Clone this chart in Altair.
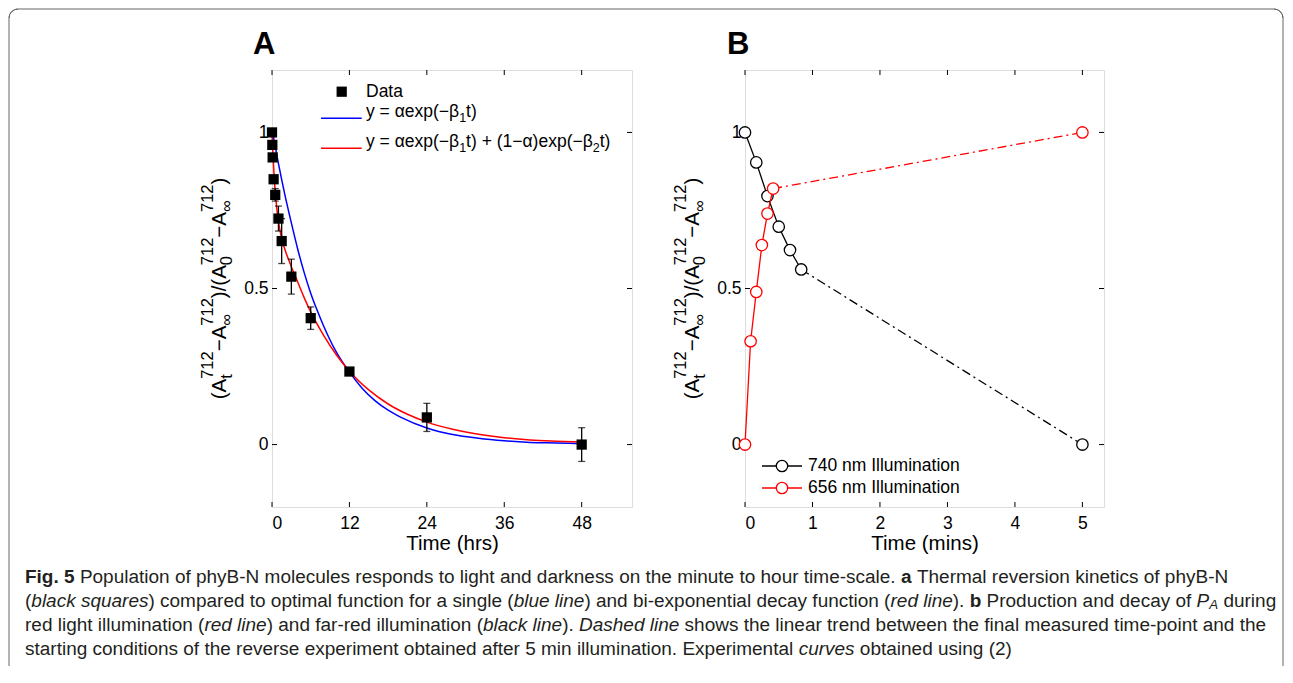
import altair as alt
import pandas as pd

FONT = "Liberation Sans"
CAP_FONT = "Liberation Sans"

# ---------------- Panel A data ----------------
a_time = [0, 0.05, 0.1, 0.25, 0.5, 1, 1.5, 3, 6, 12, 24, 48]
a_value = [1.0, 0.96, 0.92, 0.85, 0.80, 0.724, 0.652, 0.538, 0.405, 0.234, 0.087, 0.0]
a_error = [0, 0, 0, 0, 0.02, 0.04, 0.072, 0.056, 0.036, 0.008, 0.045, 0.054]

blue_t = [0, 1, 2, 3, 4, 5, 6, 7, 8, 10, 12, 14, 16, 18, 20, 24, 28, 32, 36, 40, 44, 48]
blue_y = [1.01, 0.90, 0.80, 0.71, 0.625, 0.55, 0.485, 0.43, 0.38, 0.295, 0.232, 0.18, 0.14, 0.11,
          0.087, 0.053, 0.032, 0.02, 0.012, 0.007, 0.005, 0.003]

red_t = [0, 0.1, 0.25, 0.5, 0.75, 1, 1.5, 2, 3, 4, 5, 6, 8, 10, 12, 15, 18, 21, 24, 28, 32, 36, 40, 44, 48]
red_y = [1.0, 0.95, 0.89, 0.81, 0.755, 0.715, 0.66, 0.625, 0.57, 0.52, 0.47, 0.425, 0.35, 0.287, 0.235,
         0.175, 0.13, 0.097, 0.072, 0.049, 0.033, 0.022, 0.015, 0.011, 0.008]

a_xticks = [0, 12, 24, 36, 48]
yticks = [0, 0.5, 1]

# ---------------- Panel B data ----------------
far_t = [0, 0.167, 0.333, 0.5, 0.667, 0.833]
far_y = [1.0, 0.904, 0.796, 0.698, 0.623, 0.561]
far_trend_t = [0.833, 5]
far_trend_y = [0.561, 0.0]

r656_t = [0, 0.083, 0.167, 0.25, 0.333, 0.417]
r656_y = [0.0, 0.331, 0.489, 0.639, 0.740, 0.820]
red_trend_t = [0.417, 5]
red_trend_y = [0.820, 1.0]

b_xticks = [0, 1, 2, 3, 4, 5]

legend_b = ["740 nm Illumination", "656 nm Illumination"]

# caption: (text, style) r=regular b=bold i=italic s=italic subscript
caption = [
    [("Fig. 5", "b"), (" Population of phyB-N molecules responds to light and darkness on the minute to hour time-scale. ", "r"),
     ("a", "b"), (" Thermal reversion kinetics of phyB-N", "r")],
    [("(", "r"), ("black squares", "i"), (") compared to optimal function for a single (", "r"), ("blue line", "i"),
     (") and bi-exponential decay function (", "r"), ("red line", "i"), ("). ", "r"), ("b", "b"),
     (" Production and decay of ", "r"), ("P", "i"), ("A", "s"), (" during", "r")],
    [("red light illumination (", "r"), ("red line", "i"), (") and far-red illumination (", "r"), ("black line", "i"),
     ("). ", "r"), ("Dashed line", "i"),
     (" shows the linear trend between the final measured time-point and the", "r")],
    [("starting conditions of the reverse experiment obtained after 5 min illumination. Experimental ", "r"),
     ("curves", "i"), (" obtained using (2)", "r")],
]

# ---------------- geometry (pixels) ----------------
WA, WB, H = 360, 359, 437
XA = [0, 55.8]
XB = [0, 5.32]
YD = [-0.2, 1.2]

# Arial / Liberation Sans advance widths (em)
ARR = dict(zip("abcdefghijklmnopqrstuvwxyz",
               [.556, .556, .5, .556, .556, .278, .556, .556, .222, .222, .5, .222, .833, .556, .556, .556, .556,
                .333, .5, .278, .556, .5, .722, .5, .5, .5]))
ARR.update(dict(zip("ABCDEFGHIJKLMNOPQRSTUVWXYZ",
                    [.667, .667, .722, .722, .667, .611, .778, .722, .278, .5, .667, .556, .833, .722, .778, .667,
                     .778, .722, .667, .611, .722, .667, .944, .667, .667, .611])))
ARR.update({" ": .278, ".": .278, ",": .278, "-": .333, "(": .333, ")": .333, "/": .278,
            "\u2212": .584, "\u221e": .713, "=": .584, "\u03b1": .578, "\u03b2": .575, "+": .584})
ARB = dict(ARR)
ARB.update({"F": .611, "i": .278, "g": .611, "a": .556, "b": .611, "5": .556})


def em(s, bold=False):
    tbl = ARB if bold else ARR
    return sum(tbl.get(c, .556) for c in s)


def tw(s, size):
    return em(s) * size


def ylabel_rows(center_y, base_x, main=20.5, script=16.5, raise_=12.7, drop=5.7):
    seq = [("(",), ("A",), ("712", "t"), ("\u2212",), ("A",), ("712", "\u221e"), (")",),
           ("/",), ("(",), ("A",), ("712", "0"), ("\u2212",), ("A",), ("712", "\u221e"), (")",)]
    widths = [tw(g[0], main) if len(g) == 1 else max(tw(g[0], script), tw(g[1], script)) for g in seq]
    pos = center_y + sum(widths) / 2
    rows = []
    for g, w in zip(seq, widths):
        if len(g) == 1:
            rows.append(dict(txt=g[0], px=base_x, py=pos, fs=main))
        else:
            rows.append(dict(txt=g[0], px=base_x - raise_, py=pos, fs=script))
            rows.append(dict(txt=g[1], px=base_x + drop, py=pos, fs=script))
        pos -= w
    return rows


def formula_rows(x0, base_y, parts, main=17.5, script=12.5, drop=5):
    rows = []
    x = x0
    for txt, sub in parts:
        size = script if sub else main
        rows.append(dict(txt=txt, px=x, py=base_y + (drop if sub else 0), fs=size))
        x += tw(txt, size)
    return rows


def text_layer(rows, angle=0, weight="normal", style="normal", font=FONT, color="black", baseline="alphabetic"):
    return alt.Chart(pd.DataFrame(rows)).mark_text(
        angle=angle, align="left", baseline=baseline, font=font, color=color,
        fontWeight=weight, fontStyle=style
    ).encode(
        x=alt.X("px:Q", scale=None, axis=None),
        y=alt.Y("py:Q", scale=None, axis=None),
        text="txt:N",
        size=alt.Size("fs:Q", scale=None, legend=None),
    )


def one():
    return pd.DataFrame({"k": [0]})


def inner_ticks(xvals, yvals, xdom, w):
    xt = pd.DataFrame({"v": xvals})
    yt = pd.DataFrame({"v": yvals})
    xs = alt.Scale(domain=xdom, nice=False, zero=False)
    ys_ = alt.Scale(domain=YD, nice=False, zero=False)
    base = alt.Chart(xt).mark_rule(color="black", strokeWidth=1)
    bt = base.encode(x=alt.X("v:Q", scale=xs), y=alt.value(H), y2=alt.value(H - 5))
    tt = base.encode(x=alt.X("v:Q", scale=xs), y=alt.value(0), y2=alt.value(5))
    basey = alt.Chart(yt).mark_rule(color="black", strokeWidth=1)
    lt = basey.encode(y=alt.Y("v:Q", scale=ys_), x=alt.value(0), x2=alt.value(5))
    rt = basey.encode(y=alt.Y("v:Q", scale=ys_), x=alt.value(w), x2=alt.value(w - 5))
    return [bt, tt, lt, rt]


# ---------------- caption layout ----------------
CAP_X0 = -247          # left edge of caption text, relative to panel A plot origin
CAP_Y0 = 507           # centre of first caption line
CAP_DY = 24
# target right ends of lines 1-3 (relative px)
CAP_ENDS = [955, 1005, 1004]
line_ems = [sum(em(t, s == "b") for t, s in caption[i]) for i in range(3)]
CAP_SIZE = min(sum((e - CAP_X0) / le for e, le in zip(CAP_ENDS, line_ems)) / 3,
               min((1008 - CAP_X0) / le for le in line_ems))
SUB_SIZE = CAP_SIZE * 0.7

cap_rows = {"r": [], "b": [], "i": [], "s": []}
for li, segs in enumerate(caption):
    x = CAP_X0
    yc = CAP_Y0 + CAP_DY * li
    for txt, st in segs:
        size = SUB_SIZE if st == "s" else CAP_SIZE
        lead = len(txt) - len(txt.lstrip(" "))
        stripped = txt.strip(" ")
        if stripped:
            cap_rows[st].append(dict(txt=stripped, px=x + em(" " * lead) * size,
                                     py=yc + (4 if st == "s" else 0), fs=size))
        x += em(txt, st == "b") * size

CAP_COLOR = "#231f20"
cap_layers = [
    text_layer(cap_rows["r"], font=CAP_FONT, color=CAP_COLOR, baseline="middle"),
    text_layer(cap_rows["b"], font=CAP_FONT, color=CAP_COLOR, baseline="middle", weight="bold"),
    text_layer(cap_rows["i"], font=CAP_FONT, color=CAP_COLOR, baseline="middle", style="italic"),
    text_layer(cap_rows["s"], font=CAP_FONT, color=CAP_COLOR, baseline="middle", style="italic"),
]

# ---------------- outer frame (open at the bottom) ----------------
FX0, FX1, FY0, FY1, R = -263, 1011, -61, 596, 9
FRAME = "#666666"
FW = 1
frame = [
    alt.Chart(one()).mark_rule(color=FRAME, strokeWidth=FW).encode(
        x=alt.value(FX0), y=alt.value(FY0 + R), y2=alt.value(FY1)),
    alt.Chart(one()).mark_rule(color=FRAME, strokeWidth=FW).encode(
        x=alt.value(FX1), y=alt.value(FY0 + R), y2=alt.value(FY1)),
    alt.Chart(one()).mark_rule(color=FRAME, strokeWidth=FW).encode(
        x=alt.value(FX0 + R), x2=alt.value(FX1 - R), y=alt.value(FY0)),
    alt.Chart(one()).mark_arc(filled=False, stroke=FRAME, strokeWidth=FW, strokeJoin="round",
                              radius=R, radius2=R, theta=4.712389, theta2=6.283185).encode(
        x=alt.value(FX0 + R), y=alt.value(FY0 + R)),
    alt.Chart(one()).mark_arc(filled=False, stroke=FRAME, strokeWidth=FW, strokeJoin="round",
                              radius=R, radius2=R, theta=0, theta2=1.570796).encode(
        x=alt.value(FX1 - R), y=alt.value(FY0 + R)),
]

# ---------------- Panel A ----------------
xa = alt.Scale(domain=XA, nice=False, zero=False)
ys = alt.Scale(domain=YD, nice=False, zero=False)

xa_axis = alt.Axis(values=a_xticks, format="~g", title="Time (hrs)", ticks=False, domain=False, grid=False,
                   labelFont=FONT, labelFontSize=17.5, labelColor="black", labelPadding=7,
                   titleFont=FONT, titleFontSize=20.5, titleFontWeight="normal", titleColor="black",
                   titlePadding=2)
y_axis = alt.Axis(values=yticks, format="~g", title=None, ticks=False, domain=False, grid=False,
                  labelFont=FONT, labelFontSize=17.5, labelColor="black", labelPadding=4)

dfA = pd.DataFrame({"t": a_time, "y": a_value, "e": a_error})
dfA["lo"] = dfA["y"] - dfA["e"]
dfA["hi"] = dfA["y"] + dfA["e"]
dfErr = dfA[dfA["e"] > 0]

blue = alt.Chart(pd.DataFrame({"t": blue_t, "y": blue_y})).mark_line(
    color="#0000ff", strokeWidth=1.5, interpolate="monotone"
).encode(x=alt.X("t:Q", scale=xa, axis=xa_axis), y=alt.Y("y:Q", scale=ys, axis=y_axis))

red = alt.Chart(pd.DataFrame({"t": red_t, "y": red_y})).mark_line(
    color="#ff0000", strokeWidth=1.5, interpolate="monotone"
).encode(x=alt.X("t:Q", scale=xa), y=alt.Y("y:Q", scale=ys))

err_rule = alt.Chart(dfErr).mark_rule(color="black", strokeWidth=1.3).encode(
    x=alt.X("t:Q", scale=xa), y=alt.Y("lo:Q", scale=ys), y2="hi:Q")
cap_lo = alt.Chart(dfErr).mark_tick(color="black", orient="horizontal", size=7, thickness=1.3).encode(
    x=alt.X("t:Q", scale=xa), y=alt.Y("lo:Q", scale=ys))
cap_hi = alt.Chart(dfErr).mark_tick(color="black", orient="horizontal", size=7, thickness=1.3).encode(
    x=alt.X("t:Q", scale=xa), y=alt.Y("hi:Q", scale=ys))

squares = alt.Chart(dfA).mark_square(size=105, color="black", opacity=1).encode(
    x=alt.X("t:Q", scale=xa), y=alt.Y("y:Q", scale=ys))

# legend A
leg_sq = alt.Chart(one()).mark_square(size=105, color="black", opacity=1).encode(
    x=alt.value(69.7), y=alt.value(21.7))
leg_blue = alt.Chart(one()).mark_rule(color="#0000ff", strokeWidth=1.5).encode(
    x=alt.value(49), x2=alt.value(89.7), y=alt.value(48.3))
leg_red = alt.Chart(one()).mark_rule(color="#ff0000", strokeWidth=1.5).encode(
    x=alt.value(49), x2=alt.value(89.7), y=alt.value(78.3))
legA_rows = [dict(txt="Data", px=94, py=27.3, fs=17.5)]
legA_rows += formula_rows(94, 47, [("y = \u03b1exp(\u2212\u03b2", False), ("1", True), ("t)", False)])
legA_rows += formula_rows(94, 77.3, [("y = \u03b1exp(\u2212\u03b2", False), ("1", True),
                                      ("t) + (1\u2212\u03b1)exp(\u2212\u03b2", False), ("2", True), ("t)", False)])
legA_text = text_layer(legA_rows)

ylabA = text_layer(ylabel_rows(H / 2, -46), angle=270)
titleA = text_layer([dict(txt="A", px=-19, py=-16, fs=31)], weight="bold")

panelA = alt.layer(
    *frame, *inner_ticks(a_xticks, yticks, XA, WA), blue, red, err_rule, cap_lo, cap_hi, squares,
    leg_sq, leg_blue, leg_red, legA_text, ylabA, titleA, *cap_layers
).properties(width=WA, height=H)

# ---------------- Panel B ----------------
xb = alt.Scale(domain=XB, nice=False, zero=False)
xb_axis = alt.Axis(values=b_xticks, format="~g", title="Time (mins)", ticks=False, domain=False, grid=False,
                   labelFont=FONT, labelFontSize=17.5, labelColor="black", labelPadding=7,
                   titleFont=FONT, titleFontSize=20.5, titleFontWeight="normal", titleColor="black",
                   titlePadding=2)

dash = [9, 4, 2, 4]
far_line = alt.Chart(pd.DataFrame({"t": far_t, "y": far_y})).mark_line(color="black", strokeWidth=1.3).encode(
    x=alt.X("t:Q", scale=xb, axis=xb_axis), y=alt.Y("y:Q", scale=ys, axis=y_axis))
far_tr = alt.Chart(pd.DataFrame({"t": far_trend_t, "y": far_trend_y})).mark_line(
    color="black", strokeWidth=1.3, strokeDash=dash).encode(x=alt.X("t:Q", scale=xb), y=alt.Y("y:Q", scale=ys))
far_pts = alt.Chart(pd.DataFrame({"t": far_t + far_trend_t[1:], "y": far_y + far_trend_y[1:]})).mark_point(
    shape="circle", size=130, fill="white", stroke="black", strokeWidth=1.3, opacity=1, fillOpacity=1
).encode(x=alt.X("t:Q", scale=xb), y=alt.Y("y:Q", scale=ys))

red_line = alt.Chart(pd.DataFrame({"t": r656_t, "y": r656_y})).mark_line(color="#ff0000", strokeWidth=1.3).encode(
    x=alt.X("t:Q", scale=xb), y=alt.Y("y:Q", scale=ys))
red_tr = alt.Chart(pd.DataFrame({"t": red_trend_t, "y": red_trend_y})).mark_line(
    color="#ff0000", strokeWidth=1.3, strokeDash=dash).encode(x=alt.X("t:Q", scale=xb), y=alt.Y("y:Q", scale=ys))
red_pts = alt.Chart(pd.DataFrame({"t": r656_t + red_trend_t[1:], "y": r656_y + red_trend_y[1:]})).mark_point(
    shape="circle", size=130, fill="white", stroke="#ff0000", strokeWidth=1.3, opacity=1, fillOpacity=1
).encode(x=alt.X("t:Q", scale=xb), y=alt.Y("y:Q", scale=ys))

# legend B
lb_lines = []
for i, col in enumerate(["black", "#ff0000"]):
    yy = 396 + 22 * i
    lb_lines.append(alt.Chart(one()).mark_rule(color=col, strokeWidth=1.3).encode(
        x=alt.value(17), x2=alt.value(57), y=alt.value(yy)))
    lb_lines.append(alt.Chart(one()).mark_point(
        shape="circle", size=130, fill="white", stroke=col, strokeWidth=1.3, opacity=1, fillOpacity=1
    ).encode(x=alt.value(37), y=alt.value(yy)))
legB_text = text_layer([dict(txt=legend_b[i], px=63, py=396 + 22 * i, fs=17.5) for i in range(2)],
                       baseline="middle")

ylabB = text_layer(ylabel_rows(H / 2, -46), angle=270)
titleB = text_layer([dict(txt="B", px=-18, py=-16, fs=31)], weight="bold")

panelB = alt.layer(
    *inner_ticks(b_xticks, yticks, XB, WB), far_line, far_tr, far_pts, red_line, red_tr, red_pts,
    *lb_lines, legB_text, ylabB, titleB
).properties(width=WB, height=H)

chart = alt.hconcat(panelA, panelB, spacing=113, bounds="flush").properties(
    padding={"left": 0, "top": 0, "right": 0, "bottom": 0}
).configure_view(stroke="black", strokeWidth=1.2).configure(background="white")

chart.save("out.html", embed_options={"renderer": "svg", "actions": False})
